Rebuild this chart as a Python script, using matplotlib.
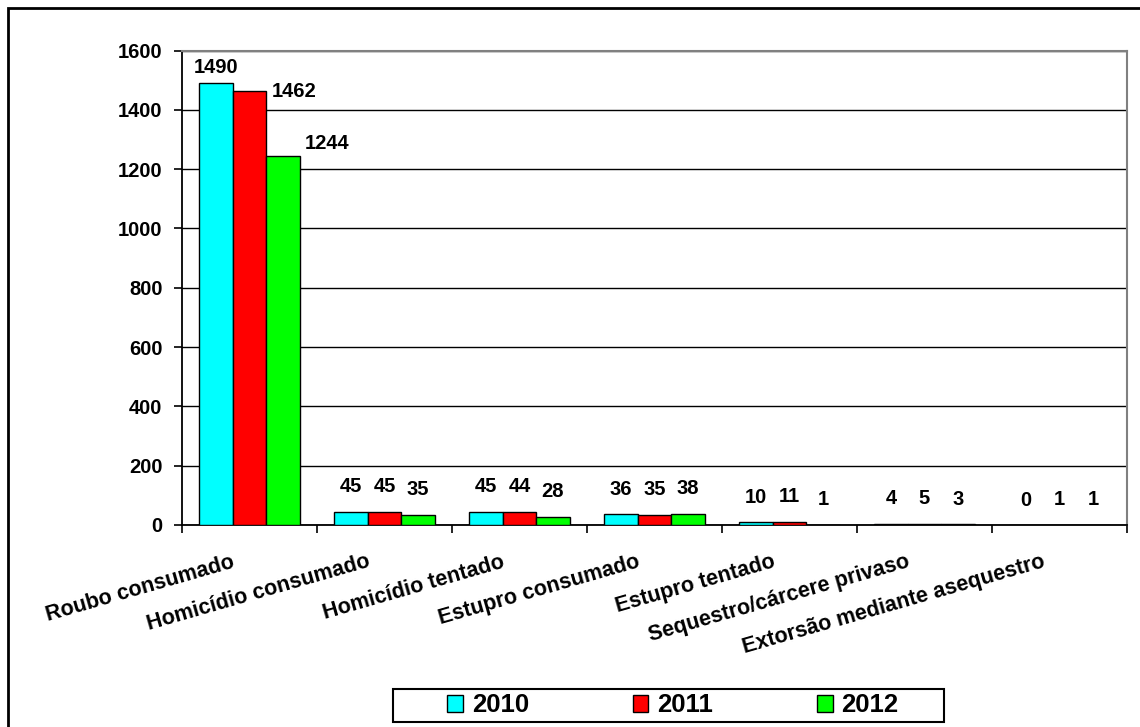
"""Ocorrências por tipo de crime, 2010-2012 (barras agrupadas)."""
import matplotlib
matplotlib.use("Agg")
import matplotlib.pyplot as plt
import matplotlib.patches as mpatches
import matplotlib.transforms as mtransforms
import numpy as np

CATEGORIES = [
    "Roubo consumado",
    "Homicídio consumado",
    "Homicídio tentado",
    "Estupro consumado",
    "Estupro tentado",
    "Sequestro/cárcere privaso",
    "Extorsão mediante asequestro",
]
YEARS = ["2010", "2011", "2012"]
V2010 = [1490, 45, 45, 36, 10, 4, 0]
V2011 = [1462, 45, 44, 35, 11, 5, 1]
V2012 = [1244, 35, 28, 38, 1, 3, 1]
Y_TICKS = [0, 200, 400, 600, 800, 1000, 1200, 1400, 1600]

COLORS = ["#00FFFF", "#FF0000", "#00FF00"]
FONT = ["Liberation Sans", "DejaVu Sans"]


def main() -> int:
    plt.rcParams["font.family"] = FONT
    plt.rcParams["font.weight"] = "bold"

    W, H = 1140, 727
    fig = plt.figure(figsize=(W / 100, H / 100), dpi=100)
    # área do gráfico: x 182..1127 px, y 50.5..525 px
    ax = fig.add_axes([182 / W, 1 - 525 / H, (1127 - 182) / W, 474.5 / H])

    series = [V2010, V2011, V2012]
    x = np.arange(len(CATEGORIES))
    w = 0.247
    for k, (vals, col) in enumerate(zip(series, COLORS)):
        pos = x + (k - 1) * w
        ax.bar(pos, vals, w, color=col, edgecolor="black", linewidth=1.0,
               label=YEARS[k], zorder=3)
        for i, (p, v) in enumerate(zip(pos, vals)):
            # rótulos do primeiro grupo foram deslocados à mão no original
            if i == 0:
                dx, dy = [(0, 11), (32, 0), (32, 9)][k]
            else:
                dx, dy = 0, 18
            ax.annotate(str(v), (p, v), xytext=(dx, dy), textcoords="offset points",
                        ha="center", va="center", fontsize=14.5, fontweight="bold")

    ax.set_xlim(-0.5, len(CATEGORIES) - 0.5)
    ax.set_ylim(0, 1600)
    ax.set_yticks(Y_TICKS)
    ax.set_yticklabels([str(t) for t in Y_TICKS], fontsize=14.5, fontweight="bold")
    ax.tick_params(axis="y", direction="out", length=6, width=1.2, pad=8)

    # marcas entre categorias, rótulos inclinados
    ax.set_xticks(np.arange(len(CATEGORIES) + 1) - 0.5)
    ax.set_xticklabels([])
    ax.tick_params(axis="x", direction="out", length=6, width=1.2)
    shift = mtransforms.ScaledTranslation(-13 / 72, -19 / 72, fig.dpi_scale_trans)
    for i, name in enumerate(CATEGORIES):
        ax.text(i, 0, name, transform=ax.get_xaxis_transform() + shift,
                rotation=16, rotation_mode="anchor", ha="right", va="top",
                fontsize=15.5, fontweight="bold")

    ax.grid(axis="y", color="black", linewidth=1.0, zorder=0)
    ax.set_axisbelow(True)
    for side in ("left", "bottom"):
        ax.spines[side].set_linewidth(1.3)
    for side in ("top", "right"):
        ax.spines[side].set_color("#808080")
        ax.spines[side].set_linewidth(1.5)

    # legenda sem moldura + caixa desenhada à parte (margem larga dos lados)
    handles = [mpatches.Patch(facecolor=c, edgecolor="black", linewidth=1.0) for c in COLORS]
    fig.legend(handles, YEARS, loc="center", bbox_to_anchor=(673 / W, 1 - 705.5 / H),
               ncol=3, frameon=False, borderpad=0, borderaxespad=0,
               handlelength=0.6, handleheight=0.6, handletextpad=0.35,
               columnspacing=4.05, prop={"weight": "bold", "size": 18.5})
    fig.patches.append(mpatches.Rectangle((393 / W, 1 - 722 / H), 551 / W, 33 / H,
                                          transform=fig.transFigure, fill=False,
                                          edgecolor="black", linewidth=1.5))

    # moldura externa (direita e base ficam fora da imagem)
    fig.patches.append(mpatches.Rectangle((8 / W, -0.05), 1.2, 1 - 8 / H + 0.05,
                                          transform=fig.transFigure, fill=False,
                                          edgecolor="black", linewidth=2.0))

    fig.savefig("out.png", dpi=100, facecolor="white")
    return 0


if __name__ == "__main__":
    raise SystemExit(main())
